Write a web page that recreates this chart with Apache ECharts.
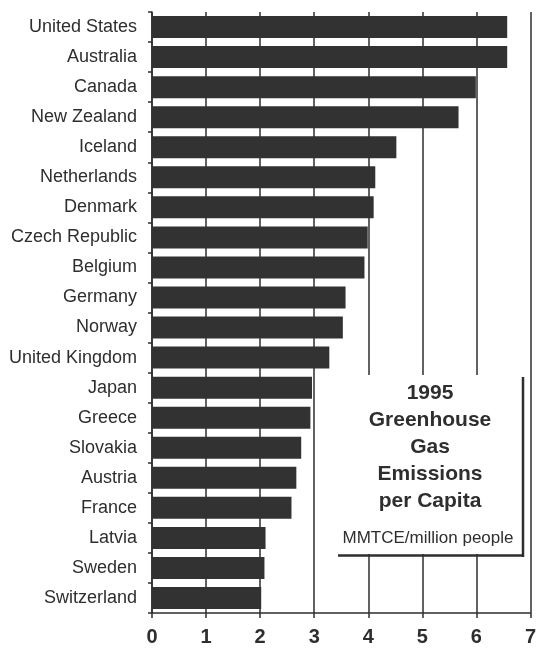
<!DOCTYPE html>
<html>
<head>
<meta charset="utf-8">
<script src="https://cdn.jsdelivr.net/npm/echarts@6/dist/echarts.min.js"></script>
<style>
html,body{margin:0;padding:0;background:#fff;}
#chart{width:539px;height:650px;}
</style>
</head>
<body>
<div id="chart"></div>
<script>
var countries = ['United States','Australia','Canada','New Zealand','Iceland','Netherlands','Denmark','Czech Republic','Belgium','Germany','Norway','United Kingdom','Japan','Greece','Slovakia','Austria','France','Latvia','Sweden','Switzerland'];
var emissions = [6.57,6.57,5.99,5.67,4.52,4.13,4.10,3.99,3.93,3.58,3.53,3.28,2.96,2.93,2.76,2.67,2.58,2.10,2.08,2.02];
var xTicks = [0,1,2,3,4,5,6,7];
var titleLines = ['1995','Greenhouse','Gas','Emissions','per Capita'];
var unitText = 'MMTCE/million people';

var chart = echarts.init(document.getElementById('chart'), null, {renderer:'canvas'});
var dark = '#2e2e2e';
chart.setOption({
  animation:false,
  backgroundColor:'#ffffff',
  grid:{left:152, right:5, top:12, bottom:37, containLabel:false},
  xAxis:{
    type:'value', min:xTicks[0], max:xTicks[xTicks.length-1], interval:1,
    axisLine:{show:true, lineStyle:{color:dark, width:1.5}},
    axisTick:{show:true, length:5, lineStyle:{color:dark, width:1.5}},
    splitLine:{show:true, lineStyle:{color:dark, width:1.5}},
    axisLabel:{margin:14, fontFamily:'"Liberation Sans Narrow", "Liberation Sans", Arial, sans-serif', fontWeight:'bold', fontSize:20, color:dark,
      formatter:function(v){return String(v);}}
  },
  yAxis:{
    type:'category', data:countries, inverse:true,
    axisLine:{show:true, lineStyle:{color:dark, width:1.5}},
    axisTick:{show:true, length:4, lineStyle:{color:dark, width:1.5}},
    axisLabel:{margin:15, fontFamily:'"Liberation Sans", Arial, sans-serif', fontSize:18, color:dark}
  },
  series:[{
    type:'bar', data:emissions, barWidth:22,
    itemStyle:{color:'#323232'}, z:3
  }],
  graphic:[
    {type:'rect', z:100, shape:{x:338, y:375, width:184, height:179}, style:{fill:'#ffffff'}},
    {type:'line', z:101, shape:{x1:523, y1:377, x2:523, y2:557}, style:{stroke:dark, lineWidth:2.5}},
    {type:'line', z:101, shape:{x1:338, y1:555.5, x2:524, y2:555.5}, style:{stroke:dark, lineWidth:2.5}},
    {type:'text', z:102, x:430, y:380, style:{text:titleLines.join('\n'), font:'bold 21px "Liberation Sans", Arial, sans-serif', fill:dark, align:'center', verticalAlign:'top', lineHeight:27}},
    {type:'text', z:102, x:428, y:538, style:{text:unitText, font:'17px "Liberation Sans", Arial, sans-serif', fill:dark, align:'center', verticalAlign:'middle'}}
  ]
});
</script>
</body>
</html>
